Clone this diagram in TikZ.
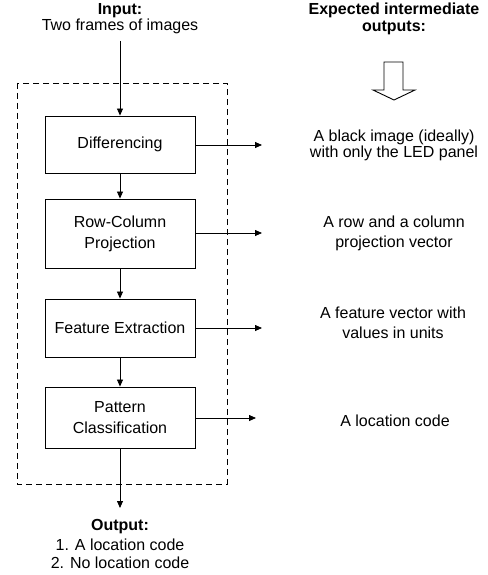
\documentclass[tikz,border=0pt]{standalone}
\usepackage{fontspec}
\setmainfont{Liberation Sans}
\usetikzlibrary{arrows.meta}
\begin{document}
\begin{tikzpicture}[x=1pt,y=-1pt,
  every node/.style={font=\fontsize{16}{18}\selectfont, inner sep=0pt},
  stage/.style={draw, line width=0.9pt, minimum width=150pt, align=center, font=\fontsize{16}{21}\selectfont},
  flow/.style={-{Triangle[length=7pt,width=6pt]}, line width=0.8pt},
  lbl/.style={align=center},
  hdr/.style={font=\fontsize{16}{17}\selectfont\bfseries, align=center}]
\useasboundingbox (0,0) rectangle (487,575);
% left column
\node[hdr] (inh) at (120,11) {Input:};
\node (inl) at (120,26) {Two frames of images};
\coordinate (src) at (120,41);
\draw[dashed, line width=0.9pt, dash pattern=on 6pt off 4pt] (17,83) rectangle (227,484);
\node[stage, minimum height=57pt] (d) at (120,144.5) {Differencing};
\node[stage, minimum height=69pt] (r) at (120,233.5) {Row-Column\\Projection};
\node[stage, minimum height=58pt] (f) at (120,328) {Feature Extraction};
\node[stage, minimum height=61pt] (p) at (120,417.5) {Pattern\\Classification};
\coordinate (outend) at (120,508);
\node[hdr] (outh) at (120,527) {Output:};
\node (o1) at (120,545) {1. A location code};
\node (o2) at (120,563) {2. No location code};
\draw[flow] (src) -- (d);
\draw[flow] (d) -- (r);
\draw[flow] (r) -- (f);
\draw[flow] (f) -- (p);
\draw[flow] (p) -- (outend);
% right column
\node[hdr] (eh) at (394,19) {Expected intermediate\\outputs:};
\draw[line width=0.9pt] (384,62) -- (403,62) -- (403,90) -- (415,90) -- (394,100) -- (373,90) -- (384,90) -- cycle;
\node[lbl] (t1a) at (394,137) {A black image (ideally)};
\node[lbl] (t1b) at (394,153) {with only the LED panel};
\node[lbl] (t2a) at (394,222) {A row and a column};
\node[lbl] (t2b) at (394,243) {projection vector};
\node[lbl] (t3a) at (393,313) {A feature vector with};
\node[lbl] (t3b) at (393,333) {values in units};
\node[lbl] (t4) at (395,421) {A location code};
\coordinate (e1) at (262,145);
\coordinate (e2) at (262,233);
\coordinate (e3) at (262,328);
\coordinate (e4) at (256,418);
\draw[flow] (d.east |- e1) -- (e1);
\draw[flow] (r.east |- e2) -- (e2);
\draw[flow] (f.east |- e3) -- (e3);
\draw[flow] (p.east |- e4) -- (e4);
\end{tikzpicture}
\end{document}
